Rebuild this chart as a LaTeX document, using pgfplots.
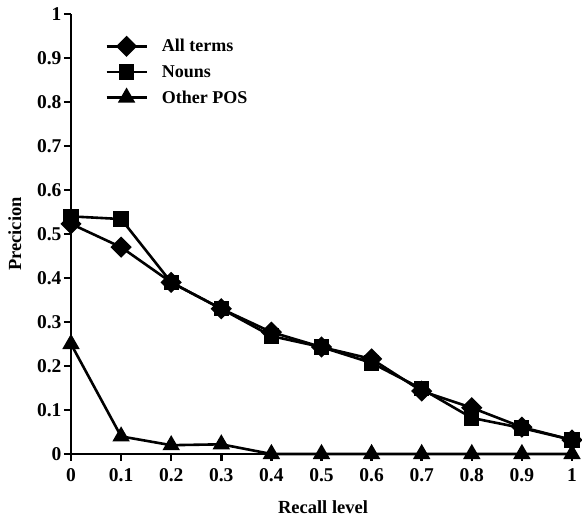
\documentclass[border=0pt]{standalone}
\usepackage{fontspec}
\setmainfont{Liberation Serif}
\usepackage{pgfplots}
\pgfplotsset{compat=1.18}
\newcommand\tfont{\fontsize{19.5}{22}\selectfont\bfseries}
\newcommand\lfont{\fontsize{18.5}{22}\selectfont\bfseries}
\begin{document}
\begin{tikzpicture}
\begin{axis}[
  scale only axis,
  width=501pt, height=440pt,
  xmin=0, xmax=1, ymin=0, ymax=1,
  axis lines*=left,
  axis line style={line width=2.5pt},
  clip=false,
  xtick={0,0.1,...,1}, ytick={0,0.1,...,1},
  tick align=outside,
  major tick length=7pt,
  tick style={line width=2.5pt, black},
  /pgf/number format/assume math mode=true,
  /pgf/number format/fixed,
  /pgf/number format/precision=1,
  xticklabel={\tfont\pgfmathprintnumber{\tick}},
  yticklabel={\tfont\pgfmathprintnumber{\tick}},
  xticklabel style={yshift=-4pt},
  yticklabel style={xshift=1pt},
  xlabel={\lfont Recall level}, ylabel={\lfont Precicion},
  every axis x label/.style={at={(axis description cs:0.503,-0.12)}, anchor=center},
  every axis y label/.style={at={(axis description cs:-0.112,0.5)}, rotate=90, anchor=center},
  legend style={at={(0.062,0.952)}, anchor=north west, draw=none, fill=none,
    font=\fontsize{18}{22}\selectfont\bfseries, row sep=8pt, cells={anchor=west}},
  legend image code/.code={
    \draw[#1] (0pt,0pt) -- (40pt,0pt);
    \draw[#1] plot coordinates {(20pt,0pt)};},
  every axis plot/.append style={line width=2.6pt, black},
]
\addplot[mark=square*, mark size=6.2pt, mark options={rotate=45}] coordinates {
  (0,0.523) (0.1,0.470) (0.2,0.390) (0.3,0.330) (0.4,0.277) (0.5,0.243)
  (0.6,0.216) (0.7,0.143) (0.8,0.105) (0.9,0.061) (1,0.032)
};
\addplot[mark=square*, mark size=6.3pt] coordinates {
  (0,0.540) (0.1,0.534) (0.2,0.390) (0.3,0.330) (0.4,0.268) (0.5,0.243)
  (0.6,0.207) (0.7,0.148) (0.8,0.082) (0.9,0.059) (1,0.032)
};
\addplot[mark=triangle*, mark size=7.5pt] coordinates {
  (0,0.250) (0.1,0.040) (0.2,0.020) (0.3,0.022) (0.4,0) (0.5,0)
  (0.6,0) (0.7,0) (0.8,0) (0.9,0) (1,0)
};
\legend{\hspace*{12pt}All terms, \hspace*{12pt}Nouns, \hspace*{12pt}Other POS}
\path (rel axis cs:1,1) ++(10pt,14pt);
\path (rel axis cs:0,0) ++(-71pt,-64pt);
\end{axis}
\end{tikzpicture}
\end{document}
